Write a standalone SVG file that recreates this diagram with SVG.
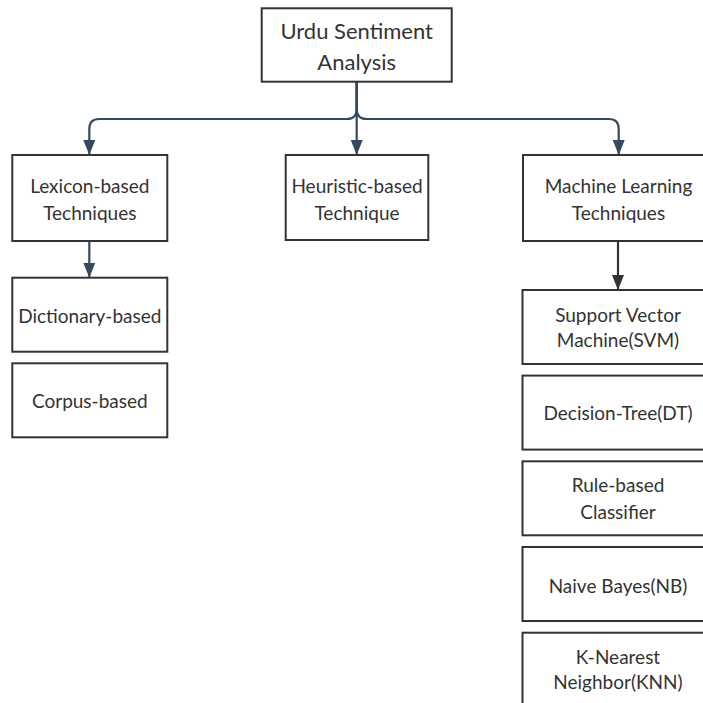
<svg xmlns="http://www.w3.org/2000/svg" width="703" height="703" viewBox="0 0 703 703">
<defs>
<style>
.box{fill:#fff;stroke:#333;stroke-width:2}
.t{font-family:Lato,"Open Sans",sans-serif;font-size:19px;fill:#333;text-anchor:middle}
.tr{font-family:Lato,"Open Sans",sans-serif;font-size:22px;fill:#333;text-anchor:middle}
.c{fill:none;stroke:#34495e;stroke-width:2.2}
.k{fill:none;stroke:#333;stroke-width:2.2}
</style>
<marker id="ab" markerWidth="15" markerHeight="12" refX="15" refY="6" orient="auto" markerUnits="userSpaceOnUse">
<path d="M0,0 L15,6 L0,12 Z" fill="#34495e"/>
</marker>
<marker id="ak" markerWidth="15" markerHeight="12" refX="15" refY="6" orient="auto" markerUnits="userSpaceOnUse">
<path d="M0,0 L15,6 L0,12 Z" fill="#333"/>
</marker>
</defs>
<rect width="703" height="703" fill="#fff"/>
<g id="connectors">
<path class="c" d="M356.7,82 V109 Q356.7,119 346.7,119 H99.3 Q89.3,119 89.3,129 V155" marker-end="url(#ab)"/>
<path class="c" d="M356.7,82 V155" marker-end="url(#ab)"/>
<path class="c" d="M356.7,82 V109 Q356.7,119 366.7,119 H608.7 Q618.7,119 618.7,129 V155" marker-end="url(#ab)"/>
<path class="c" d="M89.3,241 V277.7" marker-end="url(#ab)"/>
<path class="k" d="M618,241 V290" marker-end="url(#ak)"/>
</g>
<g id="root">
<rect class="box" x="261.7" y="8.3" width="190" height="73.4"/>
<text class="tr" x="356.7" y="39">Urdu Sentiment</text>
<text class="tr" x="356.7" y="70">Analysis</text>
</g>
<g id="lexicon">
<rect class="box" x="12.3" y="155" width="155" height="86"/>
<text class="t" x="89.8" y="193">Lexicon-based</text>
<text class="t" x="89.8" y="219.7">Techniques</text>
</g>
<g id="heuristic">
<rect class="box" x="285.7" y="155" width="142.6" height="85"/>
<text class="t" x="357" y="193">Heuristic-based</text>
<text class="t" x="357" y="219.7">Technique</text>
</g>
<g id="ml">
<rect class="box" x="523" y="155" width="191" height="86"/>
<text class="t" x="618.5" y="193">Machine Learning</text>
<text class="t" x="618.5" y="219.7">Techniques</text>
</g>
<g id="dictionary">
<rect class="box" x="12.3" y="277.7" width="155" height="74"/>
<text class="t" x="89.8" y="323">Dictionary-based</text>
</g>
<g id="corpus">
<rect class="box" x="12.3" y="363.3" width="155" height="74"/>
<text class="t" x="89.8" y="407.7">Corpus-based</text>
</g>
<g id="svm">
<rect class="box" x="522.5" y="290" width="191" height="74"/>
<text class="t" x="618" y="322">Support Vector</text>
<text class="t" x="618" y="347">Machine(SVM)</text>
</g>
<g id="dt">
<rect class="box" x="522.5" y="375.6" width="191" height="74"/>
<text class="t" x="618" y="420">Decision-Tree(DT)</text>
</g>
<g id="rule">
<rect class="box" x="522.5" y="461.3" width="191" height="74"/>
<text class="t" x="618" y="492">Rule-based</text>
<text class="t" x="618" y="518.7">Classifier</text>
</g>
<g id="nb">
<rect class="box" x="522.5" y="547" width="191" height="74"/>
<text class="t" x="618" y="593">Naive Bayes(NB)</text>
</g>
<g id="knn">
<rect class="box" x="522.5" y="632.7" width="191" height="74"/>
<text class="t" x="618" y="663.7">K-Nearest</text>
<text class="t" x="618" y="688.7">Neighbor(KNN)</text>
</g>
</svg>
